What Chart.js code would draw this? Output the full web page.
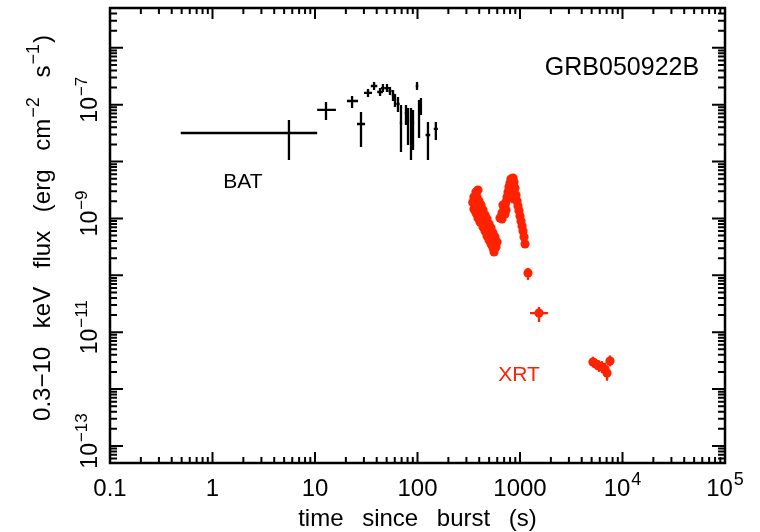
<!DOCTYPE html>
<html lang="en">
<head>
<meta charset="UTF-8">
<title>GRB050922B light curve</title>
<script src="https://cdn.jsdelivr.net/npm/chart.js"></script>
<style>
  body { margin: 0; background: #fff; }
  #wrap { width: 760px; height: 532px; }
</style>
</head>
<body>
<div id="wrap"><canvas id="lc" width="760" height="532"></canvas></div>
<script>
// BAT points (time in s, flux in erg cm^-2 s^-1), with error ranges
const batT   = [5.57, 12.8, 23.0, 28.1, 32.9, 37.7, 43.1, 46.0, 50.4, 53.9, 57.7, 60.3, 64.5, 69.0, 77.2, 80.8, 86.4, 90.4, 98.9, 103.5, 108, 126.5, 151];
const batTlo = [0.49, 10.5, 20.5, 25.7, 30.1, 35.0, 40.5, 44.0, 48.0, 52.0, 56.0, 58.5, 62.0, 67.0, 75.0, 79.0, 84.0, 88.0, 96.0, 101, 106, 120, 144];
const batThi = [10.5, 16.0, 26.3, 30.8, 36.0, 40.5, 46.0, 48.0, 53.0, 56.0, 60.0, 62.0, 67.0, 71.0, 79.0, 83.0, 89.0, 93.0, 102, 106, 110, 133, 158];
const batF   = [3.18e-8, 8.07e-8, 1.16e-7, 4.57e-8, 1.61e-7, 2.13e-7, 1.67e-7, 1.96e-7, 1.96e-7, 1.74e-7, 1.48e-7, 1.21e-7, 1.03e-7, 4.76e-8, 7.14e-8, 5.83e-8, 5.38e-8, 4.76e-8, 2.13e-7, 5.83e-8, 9.88e-8, 2.93e-8, 3.74e-8];
const batFlo = [1.06e-8, 5.38e-8, 8.75e-8, 1.80e-8, 1.36e-7, 1.81e-7, 1.42e-7, 1.67e-7, 1.67e-7, 1.48e-7, 1.16e-7, 9.1e-8, 7.43e-8, 1.47e-8, 4.39e-8, 1.95e-8, 1.06e-8, 1.6e-8, 1.81e-7, 2.60e-8, 6.59e-8, 1.06e-8, 2.39e-8];
const batFhi = [5.38e-8, 1.11e-7, 1.42e-7, 7.43e-8, 1.89e-7, 2.51e-7, 1.96e-7, 2.31e-7, 2.31e-7, 2.05e-7, 1.81e-7, 1.54e-7, 1.36e-7, 9.88e-8, 9.88e-8, 8.75e-8, 8.75e-8, 8.07e-8, 2.51e-7, 1.21e-7, 1.31e-7, 4.96e-8, 4.96e-8];

// XRT dense points (the two flare blobs)
const xrtT = [372, 389, 355, 380, 364, 398, 355, 389, 417, 372, 407, 436, 389, 426, 456, 407, 446, 477,
              436, 466, 499, 456, 488, 522, 477, 510, 546, 499, 534, 571, 522, 558, 597, 546, 583, 558,
              638, 667, 698, 714, 682, 730, 747, 764, 781, 799, 817, 855, 874, 836, 894, 855, 914, 874,
              935, 956, 978, 1000, 1023, 1047, 1070, 1095, 1120, 667, 730, 714, 346, 395];
const xrtF = [2.92e-9, 3.16e-9, 2.38e-9, 2.38e-9, 1.87e-9, 2.03e-9, 1.47e-9, 1.59e-9, 1.72e-9, 1.25e-9, 1.30e-9, 1.41e-9,
              1.02e-9, 1.10e-9, 1.15e-9, 8.66e-10, 9.0e-10, 9.8e-10, 7.07e-10, 7.67e-10, 7.98e-10, 6.02e-10, 6.52e-10, 6.79e-10,
              4.91e-10, 5.33e-10, 5.55e-10, 4.18e-10, 4.53e-10, 4.72e-10, 3.55e-10, 3.70e-10, 3.85e-10, 3.02e-10, 3.15e-10, 2.57e-10,
              1.02e-9, 1.25e-9, 1.47e-9, 1.20e-9, 1.72e-9, 1.95e-9, 2.38e-9, 2.92e-9, 3.57e-9, 4.2e-9, 4.93e-9, 5.14e-9,
              4.37e-9, 3.72e-9, 3.43e-9, 2.80e-9, 2.58e-9, 2.2e-9, 2.03e-9, 1.66e-9, 1.36e-9, 1.10e-9, 9.0e-10, 7.36e-10,
              6.02e-10, 4.72e-10, 3.55e-10, 9.8e-10, 1.41e-9, 1.66e-9, 1.9e-9, 1.15e-9];

// XRT isolated points with error bars
const xrtBarT   = [1197, 1532, 5150, 5510, 5900, 6310, 6750, 7060, 7550];
const xrtBarTlo = [1197, 1252, 5150, 5510, 5900, 6310, 6750, 7060, 7550];
const xrtBarThi = [1197, 1875, 5150, 5510, 5900, 6310, 6750, 7060, 7550];
const xrtBarF   = [1.10e-10, 2.17e-11, 2.99e-12, 2.76e-12, 2.54e-12, 2.44e-12, 2.25e-12, 1.91e-12, 3.11e-12];
const xrtBarFlo = [8.3e-11, 1.51e-11, 2.4e-12, 2.2e-12, 2.0e-12, 1.9e-12, 1.7e-12, 1.4e-12, 2.5e-12];
const xrtBarFhi = [1.35e-10, 2.77e-11, 3.7e-12, 3.4e-12, 3.2e-12, 3.1e-12, 2.9e-12, 2.5e-12, 3.9e-12];

// tick labels
const xTickVals = [0.1, 1, 10, 100, 1000, 1e4, 1e5];
const xTickBase = ['0.1', '1', '10', '100', '1000', '10', '10'];
const xTickSup  = ['', '', '', '', '', '4', '5'];
const yTickVals = [1e-7, 1e-9, 1e-11, 1e-13];
const yTickSup  = ['\u22127', '\u22129', '\u221211', '\u221213'];

const RED = '#ff2200';
const FONT = '"Liberation Sans", Arial, Helvetica, sans-serif';

function toPts(xs, ys) {
  return xs.map((x, i) => ({ x: x, y: ys[i] }));
}

// base text plus a raised smaller part
function supWidth(ctx, base, sup, size) {
  ctx.font = size + 'px ' + FONT;
  let w = ctx.measureText(base).width;
  if (sup) {
    ctx.font = Math.round(size * 0.74) + 'px ' + FONT;
    w += ctx.measureText(sup).width + 1;
  }
  return w;
}
function drawSup(ctx, base, sup, x, y, size) {
  ctx.textAlign = 'left';
  ctx.textBaseline = 'alphabetic';
  ctx.font = size + 'px ' + FONT;
  ctx.fillText(base, x, y);
  let w = ctx.measureText(base).width;
  if (sup) {
    ctx.font = Math.round(size * 0.74) + 'px ' + FONT;
    ctx.fillText(sup, x + w + 1, y - size * 0.45);
  }
}

function drawBars(ctx, xs, ys, t, tlo, thi, f, flo, fhi) {
  for (let i = 0; i < t.length; i++) {
    const px = xs.getPixelForValue(t[i]);
    const py = ys.getPixelForValue(f[i]);
    ctx.beginPath();
    ctx.moveTo(xs.getPixelForValue(tlo[i]), py);
    ctx.lineTo(xs.getPixelForValue(thi[i]), py);
    ctx.moveTo(px, ys.getPixelForValue(flo[i]));
    ctx.lineTo(px, ys.getPixelForValue(fhi[i]));
    ctx.stroke();
  }
}

const decor = {
  id: 'decor',
  beforeDatasetsDraw(chart) {
    const ctx = chart.ctx, xs = chart.scales.x, ys = chart.scales.y;
    ctx.save();
    ctx.lineWidth = 2.3;
    ctx.strokeStyle = '#000';
    drawBars(ctx, xs, ys, batT, batTlo, batThi, batF, batFlo, batFhi);
    ctx.strokeStyle = RED;
    drawBars(ctx, xs, ys, xrtBarT, xrtBarTlo, xrtBarThi, xrtBarF, xrtBarFlo, xrtBarFhi);
    ctx.restore();
  },
  afterDraw(chart) {
    const ctx = chart.ctx, xs = chart.scales.x, ys = chart.scales.y;
    const a = chart.chartArea;
    ctx.save();
    ctx.strokeStyle = '#000';
    ctx.fillStyle = '#000';

    // inward ticks on all four sides
    ctx.lineWidth = 2;
    ctx.beginPath();
    for (let d = -1; d <= 5; d++) {
      for (let m = 1; m <= 9; m++) {
        const v = m * Math.pow(10, d);
        if (v > 1.0001e5) break;
        const px = xs.getPixelForValue(v);
        const len = m === 1 ? 11 : 6;
        ctx.moveTo(px, a.bottom); ctx.lineTo(px, a.bottom - len);
        ctx.moveTo(px, a.top); ctx.lineTo(px, a.top + len);
      }
    }
    for (let d = -14; d <= -6; d++) {
      for (let m = 1; m <= 9; m++) {
        const v = m * Math.pow(10, d);
        if (v < ys.min || v > ys.max) continue;
        const py = ys.getPixelForValue(v);
        const len = m === 1 ? 13 : 7;
        ctx.moveTo(a.left, py); ctx.lineTo(a.left + len, py);
        ctx.moveTo(a.right, py); ctx.lineTo(a.right - len, py);
      }
    }
    ctx.stroke();

    // frame
    ctx.lineWidth = 2.5;
    ctx.strokeRect(a.left, a.top, a.right - a.left, a.bottom - a.top);

    // x tick labels
    xTickVals.forEach((v, i) => {
      const w = supWidth(ctx, xTickBase[i], xTickSup[i], 24);
      drawSup(ctx, xTickBase[i], xTickSup[i], xs.getPixelForValue(v) - w / 2, 496, 24);
    });

    // y tick labels, rotated
    yTickVals.forEach((v, i) => {
      ctx.save();
      ctx.translate(97, ys.getPixelForValue(v));
      ctx.rotate(-Math.PI / 2);
      const w = supWidth(ctx, '10', yTickSup[i], 23);
      drawSup(ctx, '10', yTickSup[i], -w / 2 + 5, 0, 23);
      ctx.restore();
    });

    // axis titles
    ctx.wordSpacing = '12px';
    ctx.font = '24px ' + FONT;
    ctx.textAlign = 'center';
    ctx.textBaseline = 'alphabetic';
    ctx.fillText('time since burst (s)', (a.left + a.right) / 2, 526);

    ctx.save();
    ctx.translate(50, 228);
    ctx.rotate(-Math.PI / 2);
    const parts = [['0.3\u221210 keV flux (erg cm', 0], ['\u22122', 1], [' s', 0], ['\u22121', 1], [')', 0]];
    let total = 0;
    parts.forEach(p => {
      ctx.font = (p[1] ? 18 : 24) + 'px ' + FONT;
      total += ctx.measureText(p[0]).width + (p[1] ? 2 : 0);
    });
    let cx = -total / 2;
    ctx.textAlign = 'left';
    parts.forEach(p => {
      ctx.font = (p[1] ? 18 : 24) + 'px ' + FONT;
      ctx.fillText(p[0], cx + (p[1] ? 1 : 0), p[1] ? -11 : 0);
      cx += ctx.measureText(p[0]).width + (p[1] ? 2 : 0);
    });
    ctx.restore();
    ctx.wordSpacing = '0px';

    // annotations
    ctx.textAlign = 'center';
    ctx.font = '25px ' + FONT;
    ctx.fillText('GRB050922B', 622, 75);
    ctx.font = '21px ' + FONT;
    ctx.fillText('BAT', 243, 188);
    ctx.fillStyle = RED;
    ctx.fillText('XRT', 519, 381);
    ctx.restore();
  }
};

new Chart(document.getElementById('lc'), {
  type: 'scatter',
  data: {
    datasets: [
      {
        label: 'BAT',
        data: toPts(batT, batF),
        pointRadius: 0,
        showLine: false
      },
      {
        label: 'XRT',
        data: toPts(xrtT, xrtF).concat(toPts(xrtBarT, xrtBarF)),
        pointRadius: 4.6,
        pointBackgroundColor: RED,
        pointBorderWidth: 0,
        showLine: false
      }
    ]
  },
  options: {
    responsive: false,
    animation: false,
    layout: { padding: { left: 110, right: 35, top: 8, bottom: 69 } },
    plugins: { legend: { display: false }, tooltip: { enabled: false } },
    scales: {
      x: { type: 'logarithmic', min: 0.1, max: 1e5, display: false },
      y: { type: 'logarithmic', min: 5.01e-14, max: 5.01e-6, display: false }
    }
  },
  plugins: [decor]
});
</script>
</body>
</html>
